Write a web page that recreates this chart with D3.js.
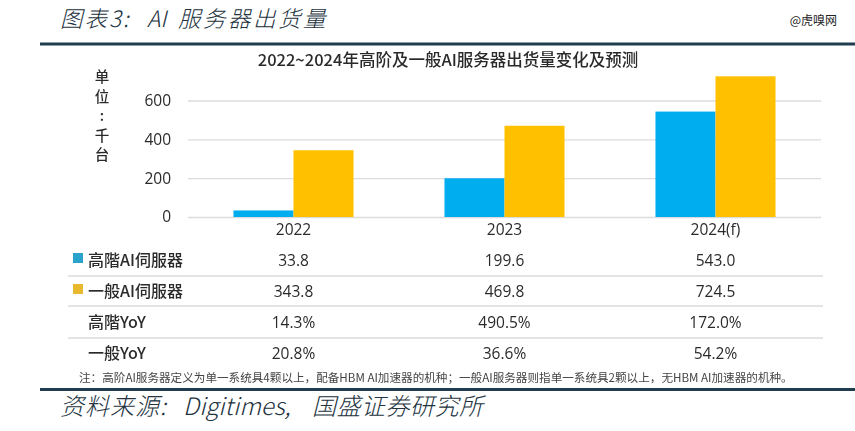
<!DOCTYPE html>
<html>
<head>
<meta charset="utf-8">
<script src="https://cdn.jsdelivr.net/npm/d3@7"></script>
<style>
  html, body { margin: 0; padding: 0; background: #fff; overflow: hidden; }
  svg { display: block; }
  text { font-family: "Noto Sans CJK SC", "Open Sans", sans-serif; fill: #2b2b2b; }
  .head { font-style: italic; font-weight: 300; fill: #22323e; }
</style>
</head>
<body>
<div id="container"></div>
<script>
// 数据
const years = ["2022", "2023", "2024(f)"];
const seriesNames = ["高階AI伺服器", "一般AI伺服器"];
const highEnd = [33.8, 199.6, 543.0];
const general = [343.8, 469.8, 724.5];
const yTicks = [0, 200, 400, 600];
const rowLabels = ["高階AI伺服器", "一般AI伺服器", "高階YoY", "一般YoY"];
const highYoY = ["14.3%", "490.5%", "172.0%"];
const generalYoY = ["20.8%", "36.6%", "54.2%"];
const unitChars = ["单", "位", ":", "千", "台"];
const colors = ["#00aeef", "#ffc000"];
const legendColors = ["#29a3cc", "#e8b92e"];

const width = 855, height = 431;
const plot = { left: 188, right: 821, top: 100.5, bottom: 217 };

const svg = d3.select("#container").append("svg")
  .attr("width", width).attr("height", height);

const defs = svg.append("defs");
defs.append("filter").attr("id", "soft")
  .append("feGaussianBlur").attr("stdDeviation", 0.45);

// 标题和来源，分段定位
const headLine = (baseline, size, parts) => {
  const t = svg.append("text").attr("class", "head")
    .attr("y", baseline).attr("font-size", size);
  parts.forEach(([left, str, spacing]) => {
    t.append("tspan").attr("x", left)
      .attr("letter-spacing", spacing)
      .text(str);
  });
};
headLine(27, 22.5, [[60, "图表3:", 2], [147, "AI", 0], [178, "服务器出货量", 2.5]]);
headLine(415, 24, [[60, "资料来源:", 1], [183, "Digitimes,", 0], [312, "国盛证券研究所", 0.5]]);

svg.append("text")
  .attr("x", 837).attr("y", 25).attr("text-anchor", "end")
  .attr("font-size", 12).style("fill", "#222")
  .text("@虎嗅网");

// 上下两条粗线
[44, 389.5].forEach((y) => {
  svg.append("rect")
    .attr("x", 40).attr("y", y - 1.5)
    .attr("width", width - 40).attr("height", 3)
    .attr("fill", "#1f3d4f");
});

const chart = svg.append("g").attr("filter", "url(#soft)");

chart.append("text")
  .attr("x", 448).attr("y", 66).attr("text-anchor", "middle")
  .attr("font-size", 16.5).attr("font-weight", 500)
  .text("2022~2024年高阶及一般AI服务器出货量变化及预测");

// 比例尺
const x = d3.scaleBand().domain(years)
  .range([plot.left, plot.right])
  .paddingInner(0.431).paddingOuter(0.2155);
const xInner = d3.scaleBand().domain(d3.range(2)).range([0, x.bandwidth()]);
const y = d3.scaleLinear().domain([0, 600]).range([plot.bottom, plot.top]);

// 坐标轴
const yAxis = chart.append("g")
  .attr("transform", `translate(${plot.left},0)`)
  .call(d3.axisLeft(y).tickValues(yTicks).tickSize(-(plot.right - plot.left)).tickPadding(17));
yAxis.select(".domain").remove();
yAxis.selectAll(".tick line").attr("stroke", "#dcdcdc").attr("stroke-width", 1.3);
yAxis.selectAll(".tick text").attr("font-size", 15.5).style("font-family", "'Open Sans', sans-serif");

const xAxis = chart.append("g")
  .attr("transform", `translate(0,${plot.bottom})`)
  .call(d3.axisBottom(x).tickSize(0).tickPadding(7));
xAxis.select(".domain").remove();
xAxis.selectAll(".tick text").attr("font-size", 15.5).style("font-family", "'Open Sans', sans-serif");

// 单位
chart.append("g").selectAll("text").data(unitChars).join("text")
  .attr("x", 102).attr("y", (d, i) => 82 + i * 19.6)
  .attr("text-anchor", "middle").attr("font-size", 14.5)
  .attr("font-weight", 500)
  .text((d) => d);

// 柱子
[highEnd, general].forEach((values, s) => {
  chart.append("g").selectAll("rect").data(values).join("rect")
    .attr("x", (d, i) => x(years[i]) + xInner(s))
    .attr("y", (d) => y(d))
    .attr("width", xInner.bandwidth())
    .attr("height", (d) => y(0) - y(d))
    .attr("fill", colors[s]);
});

// 表格
const rowY = d3.scalePoint().domain(d3.range(4)).range([260, 353]);
const rowRows = [highEnd.map((d) => d.toFixed(1)), general.map((d) => d.toFixed(1)), highYoY, generalYoY];

[276, 306, 338].forEach((ly) => {
  chart.append("line")
    .attr("x1", 68).attr("x2", 823).attr("y1", ly).attr("y2", ly)
    .attr("stroke", "#c9c9c9").attr("stroke-width", 1.2);
});

rowRows.forEach((row, r) => {
  chart.append("text")
    .attr("x", 88).attr("y", rowY(r)).attr("dy", "0.36em")
    .attr("font-size", 16).attr("font-weight", 500)
    .text(rowLabels[r]);
  chart.append("g").selectAll("text").data(row).join("text")
    .attr("x", (d, i) => x(years[i]) + x.bandwidth() / 2)
    .attr("y", rowY(r)).attr("dy", "0.36em")
    .attr("text-anchor", "middle").attr("font-size", 15.5)
    .style("font-family", "'Open Sans', sans-serif")
    .text((d) => d);
});

// 图例色块
seriesNames.forEach((name, s) => {
  chart.append("rect")
    .attr("x", 73).attr("y", rowY(s) - 7)
    .attr("width", 10).attr("height", 10)
    .attr("fill", legendColors[s]);
});

// 注
chart.append("text")
  .attr("x", 79).attr("y", 382).attr("font-size", 11.6)
  .style("fill", "#444")
  .text("注：高阶AI服务器定义为单一系统具4颗以上，配备HBM AI加速器的机种；一般AI服务器则指单一系统具2颗以上，无HBM AI加速器的机种。");
</script>
</body>
</html>
